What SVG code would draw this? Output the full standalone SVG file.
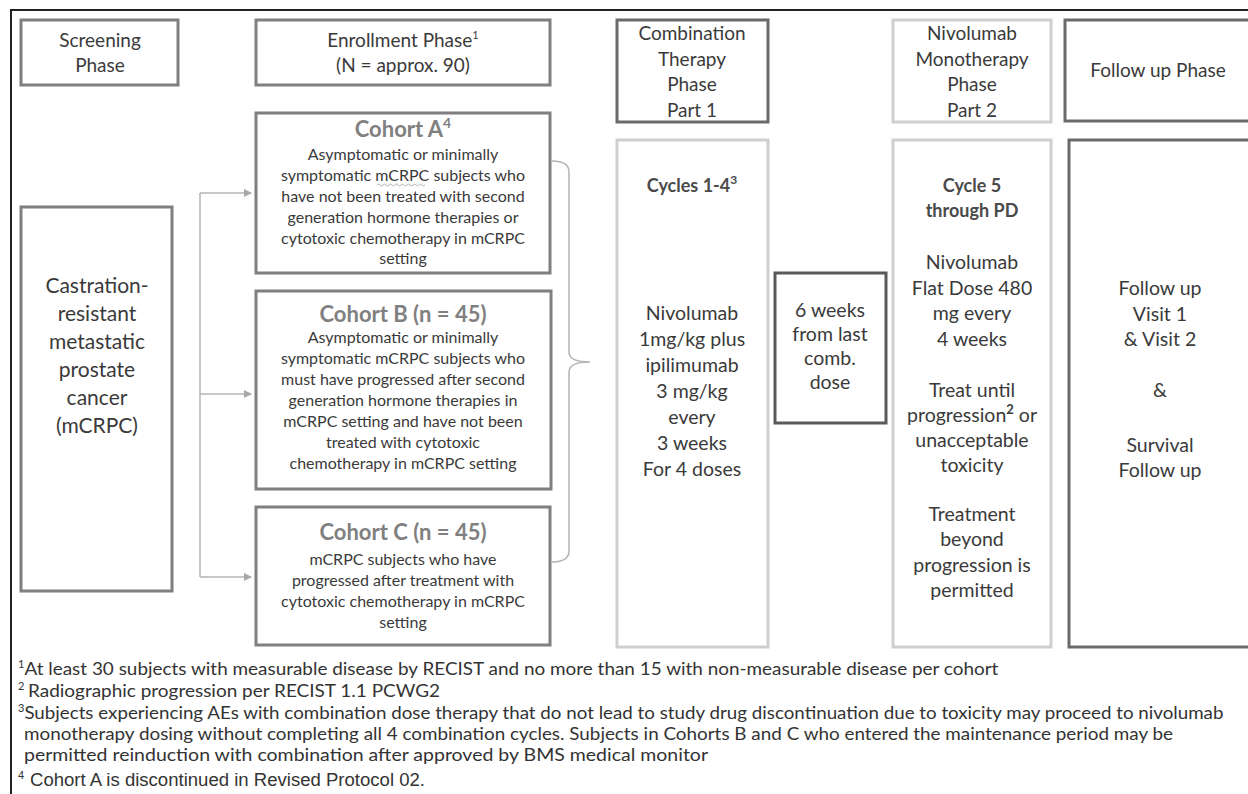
<svg xmlns="http://www.w3.org/2000/svg" width="1248" height="794" viewBox="0 0 1248 794">
<style>
.bx{fill:#fff;stroke:#7f7f7f;stroke-width:3}
.dk{stroke:#6a6a6a}
.dd{stroke:#5a5a5a}
.lt{stroke:#cfcfcf}
text{font-family:Lato,"Liberation Sans",sans-serif;fill:#3a3a3a;text-anchor:middle}
.h{font-size:19px}
.cs{font-size:21px}
.ct{font-size:22px;font-weight:bold;fill:#808080}
.cb{font-size:16px}
.bt{font-size:18px;font-weight:bold;fill:#4a4a4a}
.bd{font-size:19.5px}
.fn{font-size:16.5px;text-anchor:start;fill:#333}
.f4{font-family:"Liberation Sans",Arial,sans-serif;font-size:17.5px;text-anchor:start;fill:#333}
.sup{font-size:11px}
.con{fill:none;stroke:#b4b4b4;stroke-width:1.5}
</style>
<defs>
<marker id="ah" markerWidth="8" markerHeight="8" refX="7" refY="4" orient="auto" markerUnits="userSpaceOnUse">
<path d="M0,0 L8,4 L0,8 Z" fill="#a8a8a8"/>
</marker>
</defs>
<path d="M11,794 V10 H1248" fill="none" stroke="#222" stroke-width="2"/>

<g id="screening">
<rect class="bx" x="21" y="20" width="157" height="65"/>
<text class="h" x="100" y="47">Screening</text>
<text class="h" x="100" y="72">Phase</text>
</g>
<g id="enrollment">
<rect class="bx" x="256" y="20" width="294" height="65"/>
<text class="h" x="403" y="47">Enrollment Phase<tspan class="sup" dy="-8">1</tspan></text>
<text class="h" x="403" y="72">(N = approx. 90)</text>
</g>
<g id="combo-head">
<rect class="bx dk" x="617" y="20" width="151" height="102"/>
<text class="h" x="692" y="40">Combination</text>
<text class="h" x="692" y="65.5">Therapy</text>
<text class="h" x="692" y="91">Phase</text>
<text class="h" x="692" y="116.5">Part 1</text>
</g>
<g id="mono-head">
<rect class="bx lt" x="893" y="20" width="158" height="102"/>
<text class="h" x="972" y="40">Nivolumab</text>
<text class="h" x="972" y="65.5">Monotherapy</text>
<text class="h" x="972" y="91">Phase</text>
<text class="h" x="972" y="116.5">Part 2</text>
</g>
<g id="followup-head">
<rect class="bx dk" x="1065" y="20" width="200" height="101"/>
<text class="h" x="1158" y="77">Follow up Phase</text>
</g>

<g id="mcrpc">
<rect class="bx" x="21" y="207" width="151" height="384"/>
<text class="cs" x="97" y="293">Castration-</text>
<text class="cs" x="97" y="321">resistant</text>
<text class="cs" x="97" y="349">metastatic</text>
<text class="cs" x="97" y="377">prostate</text>
<text class="cs" x="97" y="405">cancer</text>
<text class="cs" x="97" y="433">(mCRPC)</text>
</g>

<g id="cohortA">
<rect class="bx" x="256" y="113" width="294" height="160"/>
<text class="ct" x="403" y="137">Cohort A<tspan font-size="14px" dy="-9">4</tspan></text>
<text class="cb" x="403" y="160">Asymptomatic or minimally</text>
<text class="cb" x="403" y="181">symptomatic mCRPC subjects who</text>
<text class="cb" x="403" y="202">have not been treated with second</text>
<text class="cb" x="403" y="223">generation hormone therapies or</text>
<text class="cb" x="403" y="244">cytotoxic chemotherapy in mCRPC</text>
<text class="cb" x="403" y="264">setting</text>
<path d="M377,185 q1.5,-2 3,0 t3,0 t3,0 t3,0 t3,0 t3,0 t3,0 t3,0 t3,0 t3,0 t3,0 t3,0 t3,0 t3,0 t3,0 t3,0" fill="none" stroke="#a0a0a0" stroke-width="0.8"/>
</g>
<g id="cohortB">
<rect class="bx" x="256" y="291" width="295" height="198"/>
<text class="ct" x="403" y="322">Cohort B (n = 45)</text>
<text class="cb" x="403" y="343">Asymptomatic or minimally</text>
<text class="cb" x="403" y="364">symptomatic mCRPC subjects who</text>
<text class="cb" x="403" y="385">must have progressed after second</text>
<text class="cb" x="403" y="406">generation hormone therapies in</text>
<text class="cb" x="403" y="427">mCRPC setting and have not been</text>
<text class="cb" x="403" y="448">treated with cytotoxic</text>
<text class="cb" x="403" y="469">chemotherapy in mCRPC setting</text>
</g>
<g id="cohortC">
<rect class="bx" x="256" y="507" width="294" height="138"/>
<text class="ct" x="403" y="540">Cohort C (n = 45)</text>
<text class="cb" x="403" y="565">mCRPC subjects who have</text>
<text class="cb" x="403" y="586">progressed after treatment with</text>
<text class="cb" x="403" y="607">cytotoxic chemotherapy in mCRPC</text>
<text class="cb" x="403" y="628">setting</text>
</g>

<g id="cycles">
<rect class="bx lt" x="617" y="140" width="151" height="507"/>
<text class="bt" x="692" y="192">Cycles 1-4<tspan font-size="12px" dy="-8">3</tspan></text>
<text class="bd" x="692" y="320">Nivolumab</text>
<text class="bd" x="692" y="346">1mg/kg plus</text>
<text class="bd" x="692" y="372">ipilimumab</text>
<text class="bd" x="692" y="398">3 mg/kg</text>
<text class="bd" x="692" y="424">every</text>
<text class="bd" x="692" y="450">3 weeks</text>
<text class="bd" x="692" y="476">For 4 doses</text>
</g>
<g id="six-weeks">
<rect class="bx dd" x="775" y="273" width="111" height="150"/>
<text class="bd" x="830" y="317">6 weeks</text>
<text class="bd" x="830" y="341">from last</text>
<text class="bd" x="830" y="365">comb.</text>
<text class="bd" x="830" y="389">dose</text>
</g>
<g id="cycle5">
<rect class="bx lt" x="893" y="140" width="158" height="507"/>
<text class="bt" x="972" y="192">Cycle 5</text>
<text class="bt" x="972" y="217">through PD</text>
<text class="bd" x="972" y="269">Nivolumab</text>
<text class="bd" x="972" y="294.5">Flat Dose 480</text>
<text class="bd" x="972" y="320">mg every</text>
<text class="bd" x="972" y="345.5">4 weeks</text>
<text class="bd" x="972" y="397">Treat until</text>
<text class="bd" x="972" y="422">progression<tspan font-size="13px" font-weight="bold" dy="-8">2</tspan><tspan dy="8"> or</tspan></text>
<text class="bd" x="972" y="447">unacceptable</text>
<text class="bd" x="972" y="472">toxicity</text>
<text class="bd" x="972" y="521">Treatment</text>
<text class="bd" x="972" y="546">beyond</text>
<text class="bd" x="972" y="571.5">progression is</text>
<text class="bd" x="972" y="597">permitted</text>
</g>
<g id="followup">
<rect class="bx dk" x="1069" y="140" width="200" height="507"/>
<text class="bd" x="1160" y="295">Follow up</text>
<text class="bd" x="1160" y="320.5">Visit 1</text>
<text class="bd" x="1160" y="346">&amp; Visit 2</text>
<text class="bd" x="1160" y="397">&amp;</text>
<text class="bd" x="1160" y="452">Survival</text>
<text class="bd" x="1160" y="477">Follow up</text>
</g>

<g id="connectors">
<path class="con" d="M200,193 V577"/>
<path class="con" d="M200,193 H251" marker-end="url(#ah)"/>
<path class="con" d="M200,394 H251" marker-end="url(#ah)"/>
<path class="con" d="M200,577 H251" marker-end="url(#ah)"/>
<path class="con" d="M552,161 Q569,161 569,172 V352 Q569,362 590,362 Q569,362 569,372 V551 Q569,562 552,562"/>
</g>

<g id="footnotes">
<text class="fn" x="18" y="675"><tspan class="sup" dy="-7">1</tspan><tspan dy="7" textLength="974" lengthAdjust="spacingAndGlyphs">At least 30 subjects with measurable disease by RECIST and no more than 15 with non-measurable disease per cohort</tspan></text>
<text class="fn" x="18" y="697"><tspan class="sup" dy="-7">2</tspan><tspan dy="7"> </tspan><tspan x="28" textLength="412" lengthAdjust="spacingAndGlyphs">Radiographic progression per RECIST 1.1 PCWG2</tspan></text>
<text class="fn" x="18" y="719"><tspan class="sup" dy="-7">3</tspan><tspan dy="7" textLength="1199" lengthAdjust="spacingAndGlyphs">Subjects experiencing AEs with combination dose therapy that do not lead to study drug discontinuation due to toxicity may proceed to nivolumab</tspan></text>
<text class="fn" x="24" y="740" textLength="1149" lengthAdjust="spacingAndGlyphs">monotherapy dosing without completing all 4 combination cycles. Subjects in Cohorts B and C who entered the maintenance period may be</text>
<text class="fn" x="24" y="761" textLength="684" lengthAdjust="spacingAndGlyphs">permitted reinduction with combination after approved by BMS medical monitor</text>
<text class="f4" x="18" y="786"><tspan class="sup" dy="-7">4</tspan><tspan dy="7" x="30" textLength="395" lengthAdjust="spacingAndGlyphs">Cohort A is discontinued in Revised Protocol 02.</tspan></text>
</g>
</svg>
